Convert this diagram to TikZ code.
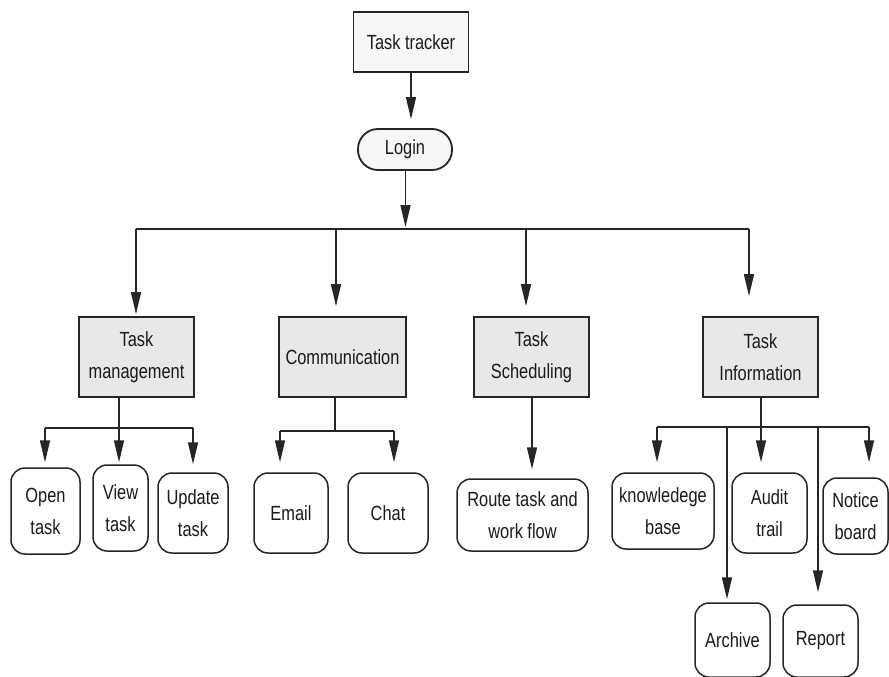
\documentclass[tikz,border=0pt]{standalone}
\usepackage{fontspec}
\setmainfont{Liberation Sans}[FakeStretch=0.80]
\usetikzlibrary{arrows.meta}
\definecolor{inkline}{HTML}{262626}
\definecolor{inktext}{HTML}{1A1A1A}
\definecolor{boxfill}{HTML}{E8E8E8}
\definecolor{topfill}{HTML}{F7F7F7}
\tikzset{
  lbl/.style={font=\fontsize{20.5}{32}\selectfont, text=inktext, align=center, inner sep=0pt},
  topbox/.style={lbl, draw=inkline, line width=1.8pt, fill=topfill},
  groupbox/.style={lbl, draw=inkline, line width=1.8pt, fill=boxfill},
  leafbox/.style={lbl, draw=inkline, line width=1.5pt, fill=white, rounded corners=14pt},
  wire/.style={draw=inkline, line width=1.5pt},
  arr/.style={wire, -{Triangle[length=22pt,width=10pt]}},
}
\begin{document}
\begin{tikzpicture}[x=1pt, y=-1pt]
\useasboundingbox (0,0) rectangle (889,677);

% root and login
\node[topbox, minimum width=115pt, minimum height=60pt] (tracker) at (411,42) {Task tracker};
\node[topbox, rounded corners=20pt, minimum width=94pt, minimum height=41pt] (login) at (405,149.5) {Login};

% second level
\node[groupbox, minimum width=115pt, minimum height=80pt] (tm) at (136.5,357) {Task\\management};
\node[groupbox, minimum width=127pt, minimum height=80pt] (comm) at (342.5,357) {Communication};
\node[groupbox, minimum width=115pt, minimum height=80pt] (sched) at (531.5,357) {Task\\Scheduling};
\node[groupbox, minimum width=115pt, minimum height=80pt] (info) at (760.5,357) {Task\\Information};

% leaves
\node[leafbox, minimum width=69pt, minimum height=86pt] (open) at (45.5,511) {Open\\task};
\node[leafbox, minimum width=55pt, minimum height=86pt] (view) at (120.5,508) {View\\task};
\node[leafbox, minimum width=70pt, minimum height=80pt] (update) at (193,513) {Update\\task};
\node[leafbox, minimum width=74pt, minimum height=80pt] (email) at (291,513) {Email};
\node[leafbox, minimum width=80pt, minimum height=80pt] (chat) at (388,513) {Chat};
\node[leafbox, minimum width=131pt, minimum height=72pt] (route) at (522.5,515) {Route task and\\work flow};
\node[leafbox, minimum width=102pt, minimum height=76pt] (know) at (663,511) {knowledege\\base};
\node[leafbox, minimum width=75pt, minimum height=80pt] (audit) at (769.5,513) {Audit\\trail};
\node[leafbox, minimum width=65pt, minimum height=76pt] (notice) at (855.5,516) {Notice\\board};
\node[leafbox, minimum width=75pt, minimum height=74pt] (archive) at (732.5,640) {Archive};
\node[leafbox, minimum width=75pt, minimum height=72pt] (report) at (820.5,641) {Report};

% root -> login
\draw[arr, shorten >=9pt] (tracker.south) -- (tracker.south |- login.north);

% login -> main bus
\coordinate (bus) at (405.5,229);
\coordinate (b1) at (136,229);
\coordinate (b2) at (336,229);
\coordinate (b3) at (526,229);
\coordinate (b4) at (749,229);
\draw[arr, shorten >=2pt] (login.south -| bus) -- (bus);
\draw[wire] (b1) -- (b4);
\draw[arr, shorten >=2pt] (b1) -- (b1 |- tm.north);
\draw[arr, shorten >=10pt] (b2) -- (b2 |- comm.north);
\draw[arr, shorten >=10pt] (b3) -- (b3 |- sched.north);
\draw[arr, shorten >=20pt] (b4) -- (b4 |- info.north);

% task management branch
\coordinate (tmj) at (119,428);
\coordinate (tm1) at (45,428);
\coordinate (tm3) at (193,428);
\draw[wire] (tm.south -| tmj) -- (tmj);
\draw[wire] (tm1) -- (tm3);
\draw[arr, shorten >=5pt] (tm1) -- (tm1 |- open.north);
\draw[arr, shorten >=2pt] (tmj) -- (tmj |- view.north);
\draw[arr, shorten >=8pt] (tm3) -- (tm3 |- update.north);

% communication branch
\coordinate (cmj) at (335,431);
\coordinate (cm1) at (280,431);
\coordinate (cm2) at (394,431);
\draw[wire] (comm.south -| cmj) -- (cmj);
\draw[wire] (cm1) -- (cm2);
\draw[arr, shorten >=10pt] (cm1) -- (cm1 |- email.north);
\draw[arr, shorten >=10pt] (cm2) -- (cm2 |- chat.north);

% scheduling branch
\coordinate (scj) at (532,397);
\draw[arr, shorten >=9pt] (sched.south -| scj) -- (scj |- route.north);

% information branch
\coordinate (inj) at (761,427);
\coordinate (in1) at (657,427);
\coordinate (in3) at (869,427);
\coordinate (inA) at (727,427);
\coordinate (inR) at (818,427);
\draw[wire] (info.south -| inj) -- (inj);
\draw[wire] (in1) -- (in3);
\draw[arr, shorten >=10pt] (in1) -- (in1 |- know.north);
\draw[arr, shorten >=10pt] (inj) -- (inj |- audit.north);
\draw[arr, shorten >=15pt] (in3) -- (in3 |- notice.north);
\draw[arr, shorten >=3pt] (inA) -- (inA |- archive.north);
\draw[arr, shorten >=12pt] (inR) -- (inR |- report.north);
\end{tikzpicture}
\end{document}
